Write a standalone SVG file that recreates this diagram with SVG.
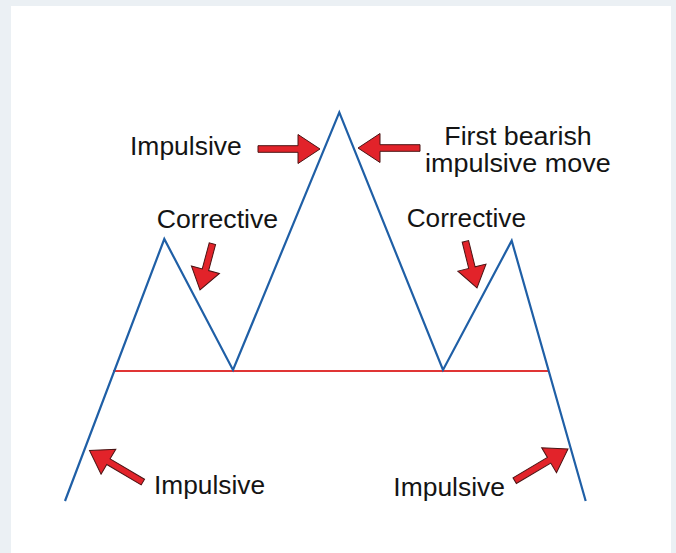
<svg xmlns="http://www.w3.org/2000/svg" width="676" height="553" viewBox="0 0 676 553">
<style>
.lbl{font-family:"Liberation Sans",Arial,sans-serif;font-size:25px;fill:#141414}
.arr{fill:#E2232A;stroke:#4a1414;stroke-width:1;stroke-linejoin:miter}
.price{fill:none;stroke:#1F5FA6;stroke-width:2.2;stroke-linejoin:miter}
.neck{stroke:#E03535;stroke-width:2.2}
</style>
<defs>
<path id="arrLong" class="arr" d="M-62,-3.3 L-22,-3.3 L-22,-14.5 L0,0 L-22,14.5 L-22,3.3 L-62,3.3 Z"/>
<path id="arrShort" class="arr" d="M-48,-3.3 L-21,-3.3 L-21,-14.5 L0,0 L-21,14.5 L-21,3.3 L-48,3.3 Z"/>
</defs>
<rect x="0" y="0" width="676" height="553" fill="#EBF0F4"/>
<rect x="11" y="6" width="660" height="547" fill="#FFFFFF"/>
<g id="connectors">
<line class="neck" x1="113" y1="371" x2="548" y2="371"/>
<polyline class="price" points="65,501 164.3,239 233,370 339.3,112.3 443,370 511.7,240.7 585.7,501"/>
</g>
<g id="arrow-impulsive-top"><use href="#arrLong" transform="translate(320,149)"/></g>
<g id="arrow-first-bearish"><use href="#arrLong" transform="translate(358,148) rotate(180)"/></g>
<g id="arrow-corrective-left"><use href="#arrShort" transform="translate(200,290) rotate(105)"/></g>
<g id="arrow-corrective-right"><use href="#arrShort" transform="translate(477,288) rotate(76)"/></g>
<g id="arrow-impulsive-bl"><use href="#arrLong" transform="translate(89.5,450.5) rotate(210.6)"/></g>
<g id="arrow-impulsive-br"><use href="#arrLong" transform="translate(568,449) rotate(-30.7)"/></g>
<g id="label-impulsive-top"><text class="lbl" x="130" y="155" textLength="111.7" lengthAdjust="spacingAndGlyphs">Impulsive</text></g>
<g id="label-first-bearish">
<text class="lbl" x="444.3" y="145" textLength="147.4" lengthAdjust="spacingAndGlyphs">First bearish</text>
<text class="lbl" x="425" y="171.7" textLength="185.7" lengthAdjust="spacingAndGlyphs">impulsive move</text>
</g>
<g id="label-corrective-left"><text class="lbl" x="156.7" y="228.3" textLength="121.5" lengthAdjust="spacingAndGlyphs">Corrective</text></g>
<g id="label-corrective-right"><text class="lbl" x="406.7" y="226.7" textLength="119.3" lengthAdjust="spacingAndGlyphs">Corrective</text></g>
<g id="label-impulsive-bl"><text class="lbl" x="154" y="494" textLength="111" lengthAdjust="spacingAndGlyphs">Impulsive</text></g>
<g id="label-impulsive-br"><text class="lbl" x="393.3" y="496" textLength="111.7" lengthAdjust="spacingAndGlyphs">Impulsive</text></g>
</svg>
